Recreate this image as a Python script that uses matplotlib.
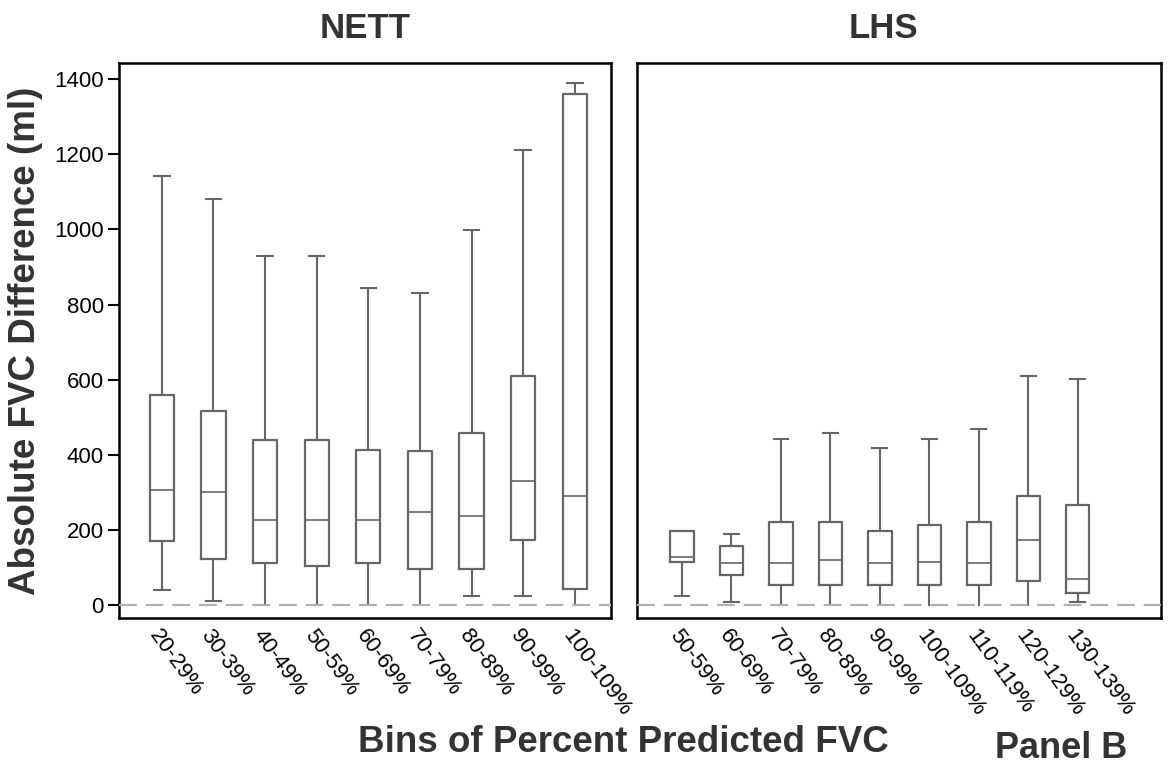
import matplotlib
matplotlib.use("Agg")
import matplotlib.pyplot as plt

plt.rcParams['font.family'] = ['Liberation Sans', 'DejaVu Sans']

# --- data (ml) ---
nett_bins = ["20-29%", "30-39%", "40-49%", "50-59%", "60-69%",
             "70-79%", "80-89%", "90-99%", "100-109%"]
nett_low = [40, 10, 0, 0, 0, 0, 24, 24, 0]
nett_q1 = [172, 122, 112, 104, 112, 95, 95, 173, 43]
nett_med = [306, 301, 227, 227, 227, 248, 238, 331, 290]
nett_q3 = [560, 517, 440, 440, 413, 410, 459, 611, 1360]
nett_high = [1142, 1081, 929, 929, 843, 830, 999, 1212, 1391]

lhs_bins = ["50-59%", "60-69%", "70-79%", "80-89%", "90-99%",
            "100-109%", "110-119%", "120-129%", "130-139%"]
lhs_low = [23, 7, 0, 0, 0, 0, 0, 0, 7]
lhs_q1 = [115, 81, 54, 54, 54, 54, 54, 63, 31]
lhs_med = [128, 111, 111, 120, 111, 116, 111, 174, 69]
lhs_q3 = [197, 157, 220, 220, 197, 213, 220, 290, 266]
lhs_high = [197, 188, 441, 459, 418, 441, 469, 611, 602]

BOX_COLOR = "#666666"
TEXT_COLOR = "#333333"


def make_stats(low, q1, med, q3, high):
    stats = []
    for lo, a, m, b, hi in zip(low, q1, med, q3, high):
        stats.append({"whislo": lo, "q1": a, "med": m, "q3": b, "whishi": hi, "fliers": []})
    return stats


def draw_panel(ax, bins, low, q1, med, q3, high, title, xlim):
    stats = make_stats(low, q1, med, q3, high)
    pos = list(range(1, len(bins) + 1))
    art = ax.bxp(stats, positions=pos, widths=0.47, showfliers=False,
                 capwidths=0.3,
                 boxprops=dict(color=BOX_COLOR, linewidth=1.6),
                 whiskerprops=dict(color=BOX_COLOR, linewidth=1.5),
                 capprops=dict(color=BOX_COLOR, linewidth=1.5),
                 medianprops=dict(color=BOX_COLOR, linewidth=1.2))
    # no lower cap where the whisker sits on zero
    for i, lo in enumerate(low):
        if lo == 0:
            art["caps"][2 * i].set_visible(False)

    ax.axhline(0, color="#b0b0b0", linewidth=1.6, linestyle=(0, (8, 4)), zorder=3)
    ax.set_xlim(*xlim)
    ax.set_ylim(-33, 1442)
    ax.set_xticks(pos)
    ax.set_xticklabels(bins, rotation=-54, ha="left", va="top",
                       rotation_mode="anchor", fontsize=16)
    ax.tick_params(axis="x", length=0, pad=6)
    for sp in ax.spines.values():
        sp.set_linewidth(1.8)
        sp.set_color("black")
    ax.set_title(title, fontsize=25, fontweight="bold", color=TEXT_COLOR, pad=18)


fig = plt.figure(figsize=(11.7, 7.69), dpi=100)
ax1 = fig.add_axes([0.1017, 0.197, 0.4205, 0.7205])
ax2 = fig.add_axes([0.5444, 0.197, 0.4479, 0.7205])

draw_panel(ax1, nett_bins, nett_low, nett_q1, nett_med, nett_q3, nett_high, "NETT", (0.17, 9.7))
draw_panel(ax2, lhs_bins, lhs_low, lhs_q1, lhs_med, lhs_q3, lhs_high, "LHS", (0.09, 10.68))

ax1.set_yticks(range(0, 1401, 200))
ax1.tick_params(axis="y", labelsize=16, length=8, width=1.5, pad=3)
ax1.set_ylabel("Absolute FVC Difference (ml)", fontsize=26.5, fontweight="bold",
               color=TEXT_COLOR, labelpad=8)
ax2.set_yticks([])
ax2.title.set_position((0.47, 1.0))

fig.text(0.533, 0.035, "Bins of Percent Predicted FVC", fontsize=26.5, fontweight="bold",
         color=TEXT_COLOR, ha="center", va="center")
fig.text(0.907, 0.027, "Panel B", fontsize=26, fontweight="bold",
         color=TEXT_COLOR, ha="center", va="center")

fig.savefig("out.png", dpi=100)
